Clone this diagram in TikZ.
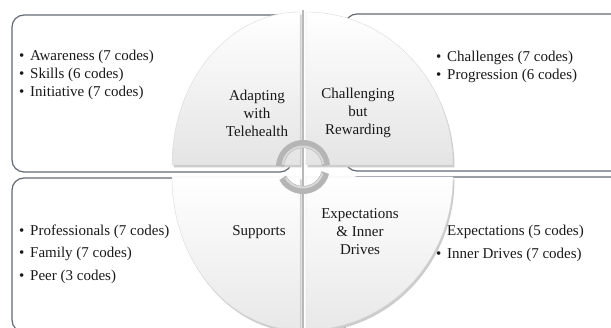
\documentclass[tikz,border=0pt]{standalone}
\usepackage{fontspec}
\setmainfont{Liberation Serif}
\definecolor{boxline}{RGB}{96,106,116}
\definecolor{inktext}{RGB}{25,25,25}
\newcommand\bitem{\makebox[11pt][l]{\textbullet}}
\begin{document}
\begin{tikzpicture}[x=1pt,y=1pt,
  box/.style={draw=boxline, line width=1.2pt, rounded corners=12pt},
  quadtop/.style={top color=white, bottom color=gray!21, draw=gray!30, line width=0.4pt},
  quadbot/.style={top color=white, bottom color=gray!18, draw=gray!30, line width=0.4pt},
  qshadow/.style={fill=gray!40},
  lab/.style={align=center, inner sep=0pt, text=inktext,
    font=\fontsize{15}{18}\selectfont},
  list/.style={align=left, inner sep=0pt, anchor=west, text=inktext,
    font=\fontsize{15}{18}\selectfont},
  widelist/.style={list, font=\fontsize{15}{22.5}\selectfont},
  ring/.style={draw=gray!58, line width=8pt},
  ringlight/.style={draw=gray!30, line width=2pt}
]
\useasboundingbox (0,0) rectangle (611,328);
\clip (0,0) rectangle (611,328);

% corner boxes
\draw[box] (12,156) rectangle (292,313);
\draw[box] (345,157) rectangle (660,314);
\draw[box] (12,-4) rectangle (292,150);
\draw[box] (345,-14) rectangle (660,151);

% soft shadows behind the four quarters
\fill[qshadow] (301.5,160.5) -- (173.5,160.5) arc[start angle=180,end angle=90,x radius=128,y radius=153] -- cycle;
\fill[qshadow] (307.5,160.5) -- (307.5,313.5) arc[start angle=90,end angle=0,x radius=147,y radius=153] -- cycle;
\fill[qshadow] (301.5,148.5) -- (301.5,-4.5) arc[start angle=270,end angle=180,x radius=128,y radius=153] -- cycle;
\fill[qshadow] (307.5,148.5) -- (454.5,148.5) arc[start angle=0,end angle=-90,x radius=147,y radius=153] -- cycle;

% the four quarters
\path[quadtop] (300,163) -- (172,163) arc[start angle=180,end angle=90,x radius=128,y radius=153] -- cycle;
\path[quadtop] (306,163) -- (306,316) arc[start angle=90,end angle=0,x radius=147,y radius=153] -- cycle;
\path[quadbot] (300,151) -- (300,-2) arc[start angle=270,end angle=180,x radius=128,y radius=153] -- cycle;
\path[quadbot] (306,151) -- (453,151) arc[start angle=0,end angle=-90,x radius=147,y radius=153] -- cycle;

% dividing line between left and right quarters
\draw[gray!55, line width=2.5pt] (303,318) -- (303,-2);

% central cycle ring
\coordinate (hub) at (303,161);
\draw[ring] ([shift={(4:23)}]hub) arc[start angle=4,end angle=178,radius=23];
\draw[ring] ([shift={(208:23)}]hub) arc[start angle=208,end angle=346,radius=23];
\draw[ringlight] ([shift={(8:20.5)}]hub) arc[start angle=8,end angle=174,radius=20.5];
\draw[ringlight] ([shift={(212:20.5)}]hub) arc[start angle=212,end angle=342,radius=20.5];

% quarter labels
\node[lab] (adapt) at (257,215) {Adapting\\with\\Telehealth};
\node[lab] (chall) at (358,215) {Challenging\\but\\Rewarding};
\node[lab] (supp)  at (259,96)  {Supports};
\node[lab] (expec) at (360,96)  {Expectations\\\& Inner\\Drives};

% code lists
\node[list] (tl) at (19,253) {\bitem Awareness (7 codes)\\\bitem Skills (6 codes)\\\bitem Initiative (7 codes)};
\node[list] (tr) at (436,261.5) {\bitem Challenges (7 codes)\\\bitem Progression (6 codes)};
\node[widelist] (bl) at (19,74) {\bitem Professionals (7 codes)\\\bitem Family (7 codes)\\\bitem Peer (3 codes)};
\node[widelist] (br) at (436,84.5) {\hspace*{11pt}Expectations (5 codes)\\\bitem Inner Drives (7 codes)};
\end{tikzpicture}
\end{document}
